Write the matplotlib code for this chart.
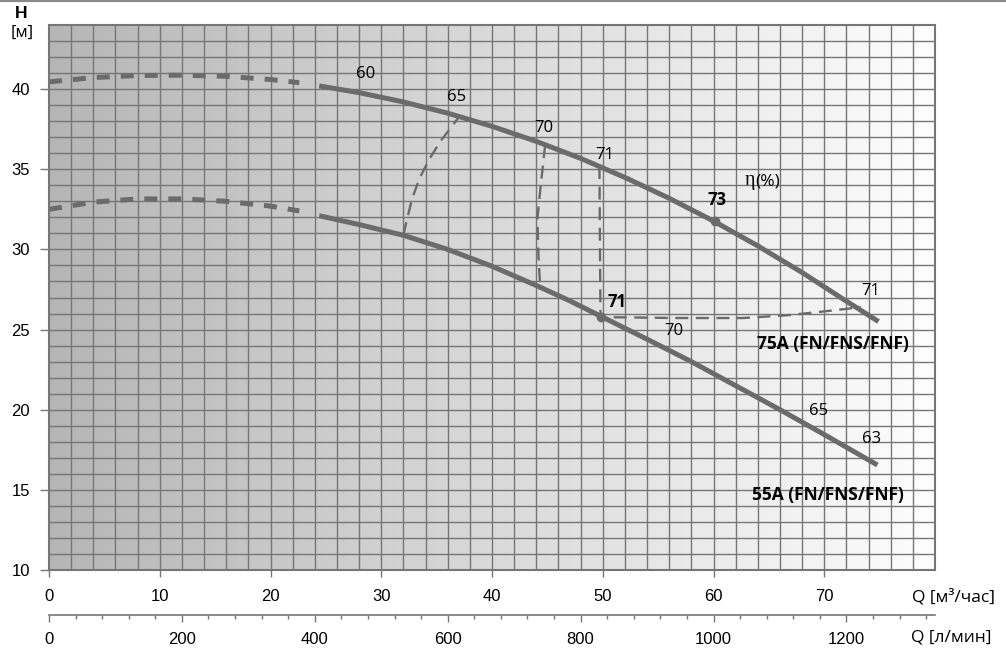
import numpy as np
from matplotlib import pyplot as plt
from matplotlib.lines import Line2D

# pump 75A: dashed (unstable) part and solid working part, Q [m3/h] -> H [m]
q75_dash = [0, 4, 8, 12, 16, 20, 22.6]
h75_dash = [40.45, 40.72, 40.85, 40.87, 40.8, 40.6, 40.4]
q75 = [24.4, 28, 32, 36, 40, 44, 48, 52, 56, 60, 64, 68, 72, 74.9]
h75 = [40.2, 39.78, 39.2, 38.5, 37.68, 36.74, 35.68, 34.49, 33.19, 31.77,
       30.22, 28.56, 26.77, 25.5]

# pump 55A
q55_dash = [0, 4, 8, 12, 16, 20, 22.6]
h55_dash = [32.5, 32.95, 33.15, 33.15, 33.0, 32.7, 32.4]
q55 = [24.4, 28, 32, 36, 40, 44, 47, 50, 54, 58, 62, 66, 70, 74.8]
h55 = [32.1, 31.55, 30.88, 30.0, 28.95, 27.75, 26.8, 25.77, 24.4, 23.0, 21.5,
       20.0, 18.45, 16.55]

# efficiency iso-lines
q_eta65 = [32.0, 32.3, 32.8, 33.5, 34.4, 35.4, 36.3, 37.0]
h_eta65 = [30.9, 31.8, 33.2, 34.5, 35.7, 36.8, 37.6, 38.25]
q_eta70 = [44.8, 44.4, 44.1, 44.2, 44.35]
h_eta70 = [36.5, 34.0, 31.9, 29.5, 27.7]
q_eta71 = [49.7, 49.75, 49.8, 50.8, 56.6, 62.7, 66.8, 70.9, 73.3]
h_eta71 = [35.2, 30.0, 25.77, 25.77, 25.72, 25.72, 25.9, 26.2, 26.4]

# best efficiency points
q_best = [60.1, 49.8]
h_best = [31.77, 25.77]

labels = [
    ("60", 28.6, 40.95, "normal"), ("65", 36.8, 39.5, "normal"),
    ("70", 44.7, 37.55, "normal"), ("71", 50.2, 35.9, "normal"),
    ("73", 60.3, 33.1, "bold"), ("71", 51.3, 26.75, "bold"),
    ("70", 56.4, 24.9, "normal"), ("71", 74.2, 27.4, "normal"),
    ("65", 69.5, 19.9, "normal"), ("63", 74.3, 18.2, "normal"),
]
model_labels = [("75A (FN/FNS/FNF)", 70.8, 24.1), ("55A (FN/FNS/FNF)", 70.3, 14.7)]

GRAY = "#6b6b6b"
GRID = "#767676"

fig = plt.figure(figsize=(10.06, 6.49), dpi=100)
ax = fig.add_axes([49 / 1006, 1 - 570 / 649, 886 / 1006, 545 / 649])

# background gradient
grad = np.linspace(0.0, 1.0, 256)
grad = 0.71 + 0.28 * grad
ax.imshow(np.vstack([grad, grad]), extent=[0, 80, 10, 44], aspect="auto",
          cmap="gray", vmin=0, vmax=1, zorder=0, interpolation="bilinear")

ax.set_xlim(0, 80)
ax.set_ylim(10, 44)

# grid every 2 m3/h and 1 m
for xv in np.arange(2, 80, 2):
    ax.axvline(xv, color=GRID, lw=1.0, zorder=1)
for yv in np.arange(11, 44, 1):
    ax.axhline(yv, color=GRID, lw=1.0, zorder=1)

for s in ax.spines.values():
    s.set_color(GRID)
    s.set_linewidth(1.5)
    s.set_zorder(5)

# pump curves
ax.plot(q75_dash, h75_dash, color=GRAY, lw=3.6, dashes=(2.6, 2.2), zorder=3)
ax.plot(q75, h75, color=GRAY, lw=3.6, zorder=3, solid_capstyle="butt")
ax.plot(q55_dash, h55_dash, color=GRAY, lw=3.6, dashes=(2.6, 2.2), zorder=3)
ax.plot(q55, h55, color=GRAY, lw=3.6, zorder=3, solid_capstyle="butt")

for qs, hs in [(q_eta65, h_eta65), (q_eta70, h_eta70), (q_eta71, h_eta71)]:
    ax.plot(qs, hs, color=GRAY, lw=1.7, dashes=(5.5, 3.2), zorder=3)

ax.plot(q_best, h_best, "o", color=GRAY, ms=6, zorder=4)

for txt, qx, hy, w in labels:
    ax.text(qx, hy, txt, ha="center", va="center", fontsize=12,
            family="Open Sans", fontweight=w, zorder=6)
ax.text(63.8, 34.0, "η", ha="right", va="baseline", fontsize=14.5,
        family="Liberation Serif", zorder=6)
ax.text(63.8, 34.0, "(%)", ha="left", va="baseline", fontsize=12.5,
        family="Open Sans", zorder=6)
for txt, qx, hy in model_labels:
    ax.text(qx, hy, txt, ha="center", va="center", fontsize=12.5,
            family="Open Sans", fontweight="bold", zorder=6)

# primary ticks
ax.set_xticks(np.arange(0, 71, 10))
ax.set_yticks(np.arange(10, 41, 5))
ax.tick_params(axis="x", direction="out", length=5, width=1, color=GRID,
               pad=9, labelsize=12)
ax.tick_params(axis="y", direction="out", length=6.5, width=1, color=GRID,
               pad=7, labelsize=12)
for lab in ax.get_xticklabels() + ax.get_yticklabels():
    lab.set_family("Liberation Sans")

# secondary axis in l/min
sec = ax.secondary_xaxis(-45 / 545, functions=(lambda q: q * 1000 / 60,
                                               lambda l: l * 60 / 1000))
sec.set_xticks(np.arange(0, 1201, 200))
sec.set_xticks(np.arange(0, 1321, 40), minor=True)
sec.spines["bottom"].set_color(GRID)
sec.spines["bottom"].set_linewidth(1.2)
sec.tick_params(which="major", direction="out", length=5, width=1, color=GRID,
                pad=7, labelsize=12)
sec.tick_params(which="minor", direction="out", length=3, width=1, color=GRID)
for lab in sec.get_xticklabels():
    lab.set_family("Liberation Sans")

# axis titles
fig.text(953 / 1006, 1 - 597 / 649, "Q [м³/час]", ha="center", va="center",
         fontsize=12.5, family="Open Sans")
fig.text(951 / 1006, 1 - 637 / 649, "Q [л/мин]", ha="center", va="center",
         fontsize=12.5, family="Open Sans")
fig.text(21 / 1006, 1 - 13 / 649, "H", ha="center", va="center",
         fontsize=12.5, family="Liberation Sans", fontweight="bold")
fig.text(22 / 1006, 1 - 33 / 649, "[м]", ha="center", va="center",
         fontsize=12, family="Open Sans")

fig.add_artist(Line2D([0, 1], [0.999, 0.999], color="#8a8a8a", lw=1.5,
                      transform=fig.transFigure))

fig.savefig("out.png", dpi=100)
